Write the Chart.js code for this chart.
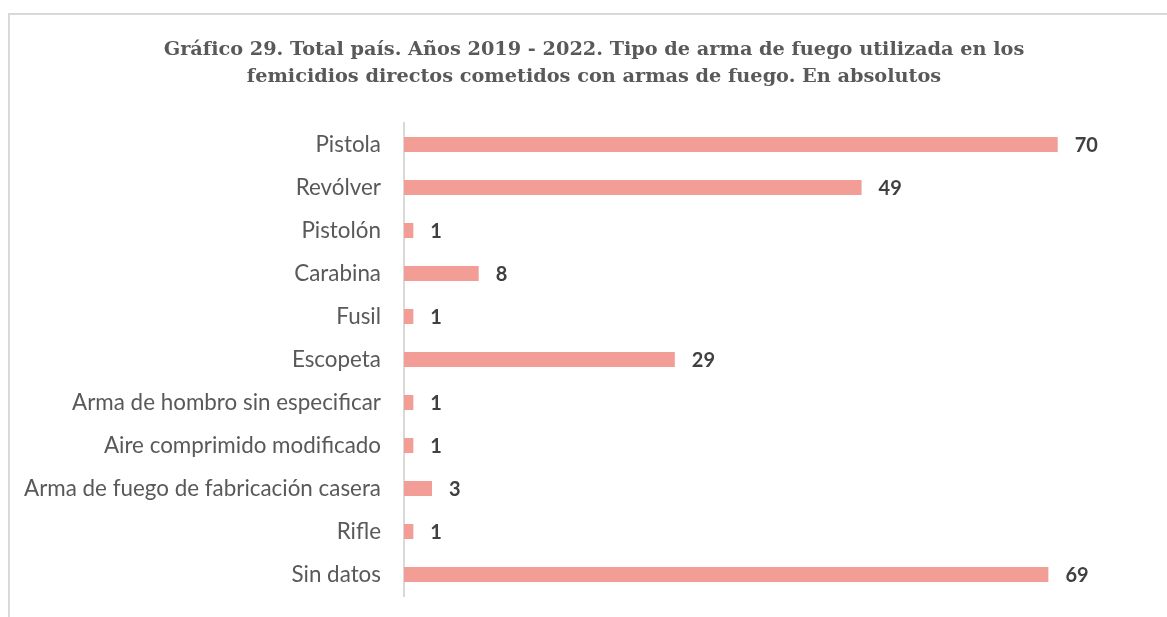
<!DOCTYPE html>
<html lang="es">
<head>
    <meta charset="UTF-8">
    <title>Gráfico 29</title>
    <script src="https://cdn.jsdelivr.net/npm/chart.js"></script>
    <style>
        body {
            margin: 0;
            padding: 0;
            background: #fff;
            overflow: hidden;
        }
        .frame {
            position: absolute;
            left: 8px;
            top: 13px;
            width: 1200px;
            height: 700px;
            border: 2px solid #d9d9d9;
            box-sizing: border-box;
        }
        .chart-box {
            position: absolute;
            left: 0;
            top: 0;
            width: 1167px;
            height: 617px;
        }
    </style>
</head>
<body>
    <div class="frame"></div>
    <div class="chart-box">
        <canvas id="armas"></canvas>
    </div>

    <script>
        // datos del gráfico
        const categorias = [
            'Pistola', 'Revólver', 'Pistolón', 'Carabina', 'Fusil', 'Escopeta',
            'Arma de hombro sin especificar', 'Aire comprimido modificado',
            'Arma de fuego de fabricación casera', 'Rifle', 'Sin datos'
        ];
        const casos = [70, 49, 1, 8, 1, 29, 1, 1, 3, 1, 69];
        const titulo = [
            'Gráfico 29. Total país. Años 2019 - 2022. Tipo de arma de fuego utilizada en los',
            'femicidios directos cometidos con armas de fuego. En absolutos'
        ];

        // etiquetas de valor al final de cada barra
        const etiquetas = {
            id: 'etiquetas',
            afterDatasetsDraw(chart) {
                const ctx = chart.ctx;
                const meta = chart.getDatasetMeta(0);
                ctx.save();
                ctx.font = 'bold 20px Lato';
                ctx.fillStyle = '#404040';
                ctx.textAlign = 'left';
                ctx.textBaseline = 'middle';
                meta.data.forEach((bar, i) => {
                    ctx.fillText(String(casos[i]), bar.x + 17, bar.y + 1);
                });
                ctx.restore();
            }
        };

        const ctx = document.getElementById('armas').getContext('2d');
        new Chart(ctx, {
            type: 'bar',
            data: {
                labels: categorias,
                datasets: [{
                    data: casos,
                    backgroundColor: '#F29E97',
                    barPercentage: 0.5,
                    categoryPercentage: 0.7
                }]
            },
            options: {
                indexAxis: 'y',
                responsive: true,
                maintainAspectRatio: false,
                animation: false,
                layout: {
                    padding: { left: 21, right: 0, top: 0, bottom: 21 }
                },
                plugins: {
                    legend: { display: false },
                    tooltip: { enabled: false },
                    title: {
                        display: true,
                        text: titulo,
                        color: '#595959',
                        font: { family: 'DejaVu Serif', size: 19.3, weight: 'bold', lineHeight: 1.4 },
                        padding: { top: 36, bottom: 33 }
                    }
                },
                scales: {
                    x: {
                        display: false,
                        min: 0,
                        max: 81.7
                    },
                    y: {
                        afterFit(scale) {
                            scale.width = 383;
                            scale.paddingTop = 0;
                            scale.paddingBottom = 0;
                        },
                        grid: { display: false },
                        border: { display: true, color: '#d9d9d9', width: 2 },
                        ticks: {
                            color: '#595959',
                            padding: 15,
                            font: { family: 'Lato', size: 22.4 }
                        }
                    }
                }
            },
            plugins: [etiquetas]
        });
    </script>
</body>
</html>
